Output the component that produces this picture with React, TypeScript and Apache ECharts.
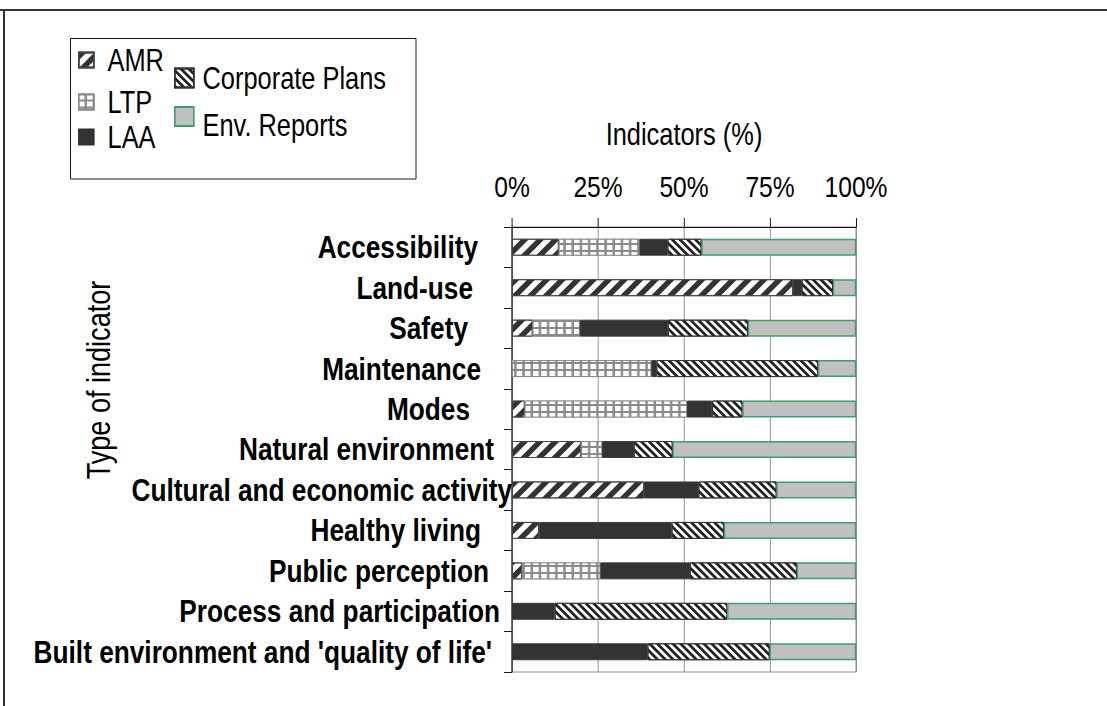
import React, { useEffect, useRef } from 'react';
import * as echarts from 'echarts';

const categories = [
  'Accessibility',
  'Land-use',
  'Safety',
  'Maintenance',
  'Modes',
  'Natural environment',
  'Cultural and economic activity',
  'Healthy living',
  'Public perception',
  'Process and participation',
  "Built environment and 'quality of life'",
];
const amr = [13.6, 81.7, 6.0, 0, 3.7, 20.0, 38.4, 7.8, 2.9, 0, 0];
const ltp = [23.5, 0, 13.7, 40.5, 47.2, 6.2, 0, 0, 22.8, 0, 0];
const laa = [8.1, 2.5, 25.6, 1.5, 7.3, 9.2, 15.8, 38.6, 26.0, 12.4, 39.4];
const corporatePlans = [9.9, 9.1, 23.3, 47.0, 8.8, 11.3, 22.7, 15.2, 31.1, 50.2, 35.5];
const envReports = [44.9, 6.7, 31.4, 11.0, 33.0, 53.3, 23.1, 38.4, 17.2, 37.4, 25.1];
const xTickStep = 25;
const xMax = 100;
const xTitle = 'Indicators (%)';
const yTitle = 'Type of indicator';

// Layout: the chart is drawn wider and squeezed horizontally (narrow-font look)
const K = 0.82;
const W = 1107;
const H = 706;
const sx = (v: number) => v / K;

// right padding of each category label (visual px, layout only)
const labelPad = [34, 39, 44, 31, 42, 18, 0, 31, 23, 12, 20];

const FONT = "'Liberation Sans', Arial, sans-serif";

export default function App() {
  const ref = useRef<HTMLDivElement>(null);
  useEffect(() => {
    if (!ref.current) return;
    const chart = echarts.init(ref.current, null, { renderer: 'svg' });
    const toData = (arr: number[]) => arr.map((v) => (v === 0 ? null : v));
    const bar = (name: string, data: number[], itemStyle: any) => ({
      name,
      type: 'bar',
      stack: 'total',
      barWidth: 17,
      data: toData(data),
      itemStyle,
      emphasis: { disabled: true },
    });
    const legendText = { fontFamily: FONT, fontSize: 31, color: '#000' };
    const legendBase = {
      orient: 'vertical',
      padding: 0,
      selectedMode: false,
      icon: 'rect',
    };
    const ang = Math.atan(K); // visual 45deg after horizontal squeeze
    chart.setOption({
      animation: false,
      backgroundColor: '#fff',
      grid: {
        left: sx(512),
        top: 227,
        width: sx(344),
        height: 445,
        show: true,
        borderColor: '#888',
        borderWidth: 1,
        backgroundColor: 'transparent',
        containLabel: false,
        outerBoundsMode: 'none',
      },
      legend: [
        { ...legendBase, data: ['AMR'], left: sx(78), top: 44.5, itemWidth: sx(15), itemHeight: 15,
          textStyle: { ...legendText, padding: [0, 0, 0, sx(13.7) - 5] } },
        { ...legendBase, data: ['LTP'], left: sx(78), top: 86.5, itemWidth: sx(15), itemHeight: 15,
          textStyle: { ...legendText, padding: [0, 0, 0, sx(13.7) - 5] } },
        { ...legendBase, data: ['LAA'], left: sx(78), top: 121.5, itemWidth: sx(15), itemHeight: 15,
          textStyle: { ...legendText, padding: [0, 0, 0, sx(13.7) - 5] } },
        { ...legendBase, data: ['Corporate Plans'], left: sx(174), top: 62.5, itemWidth: sx(19), itemHeight: 19,
          textStyle: { ...legendText, padding: [0, 0, 0, sx(8.7) - 5] } },
        { ...legendBase, data: ['Env. Reports'], left: sx(174), top: 106, itemWidth: sx(19), itemHeight: 19,
          formatter: '{t|{name}}',
          textStyle: { ...legendText, padding: [0, 0, 0, sx(8.7) - 5],
            rich: { t: { fontFamily: FONT, fontSize: 31, color: '#000', padding: [18, 0, 0, 0] } } } },
      ],
      xAxis: {
        type: 'value',
        position: 'top',
        min: 0,
        max: xMax,
        interval: xTickStep,
        name: xTitle,
        nameLocation: 'middle',
        nameGap: 77,
        nameMoveOverlap: false,
        nameTextStyle: { fontFamily: FONT, fontSize: 31, color: '#000' },
        axisLine: { show: true, lineStyle: { color: '#000', width: 1 } },
        axisTick: { show: true, length: 9, lineStyle: { color: '#000' } },
        axisLabel: { fontFamily: FONT, fontSize: 30, color: '#000', margin: 25, formatter: '{value}%' },
        splitLine: { show: true, lineStyle: { color: '#888', width: 1 } },
      },
      yAxis: {
        type: 'category',
        inverse: true,
        data: categories.map((c, i) => ({ value: c, textStyle: { padding: [0, sx(labelPad[i]), 0, 0] } })),
        axisLine: { show: true, lineStyle: { color: '#000', width: 1 } },
        axisTick: { show: true, length: sx(8), lineStyle: { color: '#000' } },
        axisLabel: { interval: 0, fontFamily: FONT, fontSize: 32, fontWeight: 'bold', color: '#000', margin: 0 },
        splitLine: { show: false },
      },
      graphic: [
        { type: 'line', shape: { x1: 0, y1: 10, x2: sx(W), y2: 10 }, style: { stroke: '#333', lineWidth: 2 } },
        { type: 'line', shape: { x1: sx(4), y1: 9, x2: sx(4), y2: H }, style: { stroke: '#333', lineWidth: sx(2) } },
        { type: 'rect', shape: { x: sx(70.5), y: 38.5, width: sx(345.5), height: 140.5 }, style: { stroke: '#000', lineWidth: 1, fill: 'transparent' }, z: -1 },
        {
          type: 'text',
          x: sx(99),
          y: 380,
          rotation: Math.PI / 2,
          scaleX: K,
          scaleY: 1 / K,
          style: {
            text: yTitle,
            font: "normal 33px 'Liberation Sans', Arial, sans-serif",
            fill: '#000',
            textAlign: 'center',
            textVerticalAlign: 'middle',
          },
        },
      ],
      series: [
        bar('AMR', amr, {
          color: '#ffffff',
          borderColor: '#444',
          borderWidth: 1,
          decal: { symbol: 'rect', symbolSize: 1, color: '#333', dashArrayX: [1, 0], dashArrayY: [5.7, 5.7], rotation: -ang },
        }),
        bar('LTP', ltp, {
          color: '#8a8a8a',
          borderColor: '#888',
          borderWidth: 1,
          decal: { symbol: 'rect', symbolSize: 1, color: '#ffffff', dashArrayX: [6.1, 2.2], dashArrayY: [4.6, 1.8], rotation: 0 },
        }),
        bar('LAA', laa, { color: '#333333', borderColor: '#333', borderWidth: 1 }),
        bar('Corporate Plans', corporatePlans, {
          color: '#ffffff',
          borderColor: '#333',
          borderWidth: 1,
          decal: { symbol: 'rect', symbolSize: 1, color: '#222', dashArrayX: [1, 0], dashArrayY: [2.8, 2.8], rotation: ang },
        }),
        bar('Env. Reports', envReports, { color: '#c0c0c0', borderColor: '#3f9f6a', borderWidth: 1.5 }),
      ],
    });
    return () => chart.dispose();
  }, []);
  return (
    <div
      ref={ref}
      style={{
        position: 'fixed',
        left: 0,
        top: 0,
        width: sx(W),
        height: H,
        transform: `scaleX(${K})`,
        transformOrigin: '0 0',
      }}
    />
  );
}
